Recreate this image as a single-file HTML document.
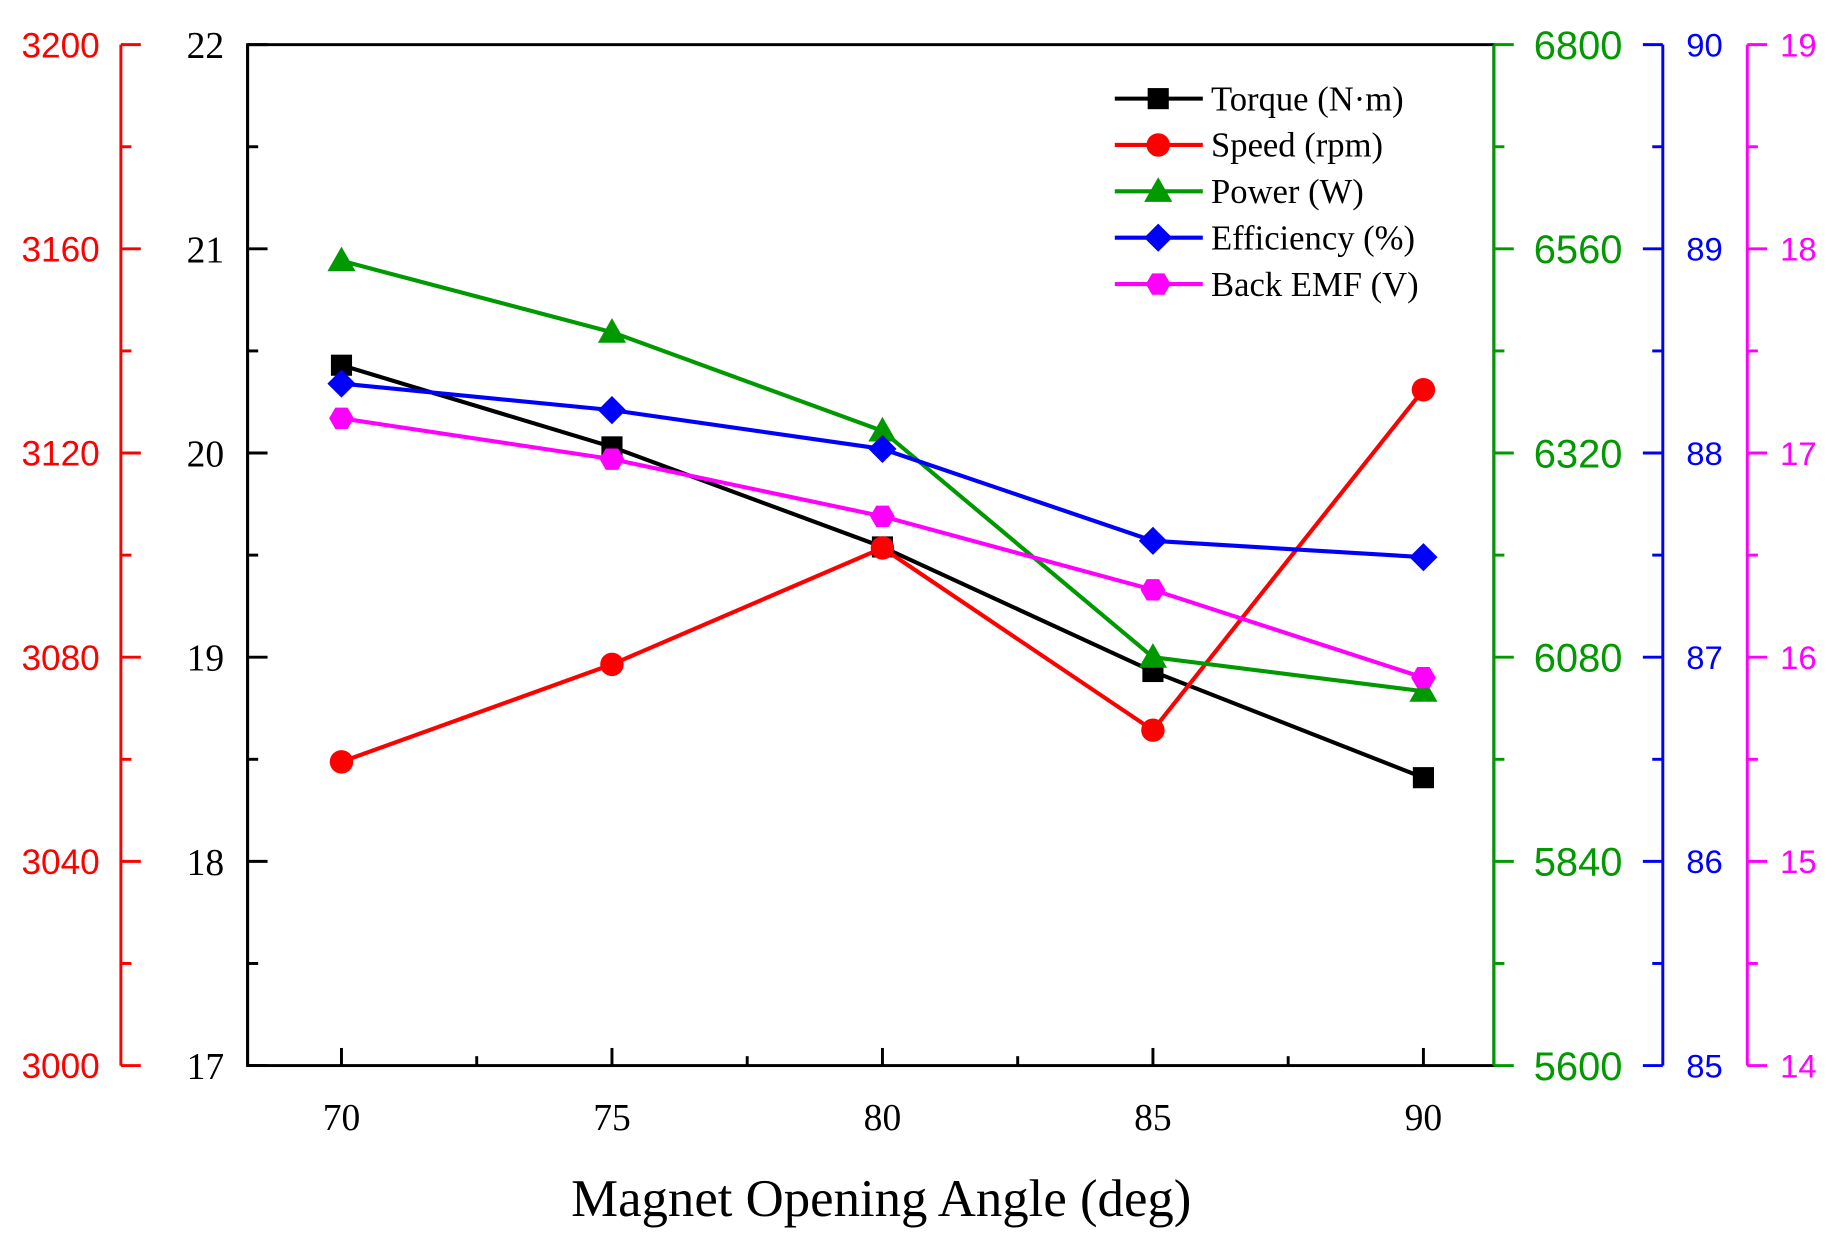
<!DOCTYPE html>
<html><head><meta charset="utf-8"><style>html,body{margin:0;padding:0;background:#fff}svg{display:block}</style></head>
<body>
<svg id="chart" width="1840" height="1244" viewBox="0 0 1568 1060" xmlns="http://www.w3.org/2000/svg"></svg>
<script>
const categories=[70,75,80,85,90];
const torque=[20.43,20.03,19.54,18.93,18.41];
const speed=[3059.5,3078.6,3101.4,3065.7,3132.4];
const power=[6546,6462,6346,6080,6040];
const efficiency=[88.34,88.21,88.02,87.57,87.49];
const backEmf=[17.17,16.97,16.69,16.33,15.90];
const torqueTicks=[17,18,19,20,21,22];
const speedTicks=[3000,3040,3080,3120,3160,3200];
const powerTicks=[5600,5840,6080,6320,6560,6800];
const effTicks=[85,86,87,88,89,90];
const emfTicks=[14,15,16,17,18,19];

const svg=document.getElementById('chart');
const NS='http://www.w3.org/2000/svg';
const L=211,R=1273,T=38,B=908;
function el(tag,attrs,parent){const e=document.createElementNS(NS,tag);for(const k in attrs)e.setAttribute(k,attrs[k]);(parent||svg).appendChild(e);return e;}
function xS(v){return 291+(v-70)*(1213-291)/20;}
function yS(min,max){return v=>B-(v-min)/(max-min)*(B-T);}
const yT=yS(17,22),ySp=yS(3000,3200),yP=yS(5600,6800),yE=yS(85,90),yM=yS(14,19);

const frame=el('rect',{x:L,y:T,width:R-L,height:B-T,fill:'none',stroke:'#000','stroke-width':2.5});



function axis(x,ticks,sc,color,dir,font,size,name,labelDx,anchor){
  const g=el('g',{});
  
  
  el('line',{x1:x,y1:T,x2:x,y2:B,stroke:color,'stroke-width':2.5},g);
  for(let i=0;i<ticks.length;i++){
    const y=sc(ticks[i]);
    el('line',{x1:x,y1:y,x2:x+dir*17,y2:y,stroke:color,'stroke-width':2.5},g);
    if(i<ticks.length-1){const ym=(y+sc(ticks[i+1]))/2;el('line',{x1:x,y1:ym,x2:x+dir*9,y2:ym,stroke:color,'stroke-width':2.5},g);}
    const t=el('text',{x:x+labelDx,y:y+size*0.36,fill:color,'font-family':font,'font-size':size,'text-anchor':anchor},g);
    t.textContent=ticks[i];
    
    
  }
}
axis(103,speedTicks,ySp,'#ff0000',1,'Liberation Sans, sans-serif',30,'speed-axis',-18,'end');
axis(L,torqueTicks,yT,'#000',1,'Liberation Serif, serif',32,'torque-axis',-20,'end');
axis(R,powerTicks,yP,'#009900',1,'Liberation Sans, sans-serif',34,'power-axis',34,'start');
axis(1417,effTicks,yE,'#0000ff',-1,'Liberation Sans, sans-serif',28,'efficiency-axis',20,'start');
axis(1489,emfTicks,yM,'#ff00ff',1,'Liberation Sans, sans-serif',28,'back-emf-axis',28,'start');

for(let v=70;v<=90;v+=2.5){
  const x=xS(v);const major=(v%5===0);
  el('line',{x1:x,y1:B,x2:x,y2:B-(major?15:8),stroke:'#000','stroke-width':2.5});
  if(major){const t=el('text',{x:x,y:B+55,'font-family':'Liberation Serif, serif','font-size':32,'text-anchor':'middle'});t.textContent=v;
  }
}
const xt=el('text',{x:751,y:1036,'font-family':'Liberation Serif, serif','font-size':45,'text-anchor':'middle'});
xt.textContent='Magnet Opening Angle (deg)';



function marker(g,shape,x,y,color){
  if(shape==='square')el('rect',{x:x-9,y:y-9,width:18,height:18,fill:color},g);
  else if(shape==='circle')el('circle',{cx:x,cy:y,r:10,fill:color},g);
  else if(shape==='triangle')el('polygon',{points:`${x},${y-12} ${x+12},${y+9} ${x-12},${y+9}`,fill:color},g);
  else if(shape==='diamond')el('polygon',{points:`${x},${y-12} ${x+12},${y} ${x},${y+12} ${x-12},${y}`,fill:color},g);
  else {let p=[];for(let k=0;k<6;k++){const a=Math.PI/3*k;p.push((x+10.5*Math.cos(a))+','+(y+10.5*Math.sin(a)));}el('polygon',{points:p.join(' '),fill:color},g);}
}
const series=[
  {name:'Torque (N·m)',data:torque,sc:yT,color:'#000',shape:'square',id:'torque-series'},
  {name:'Speed (rpm)',data:speed,sc:ySp,color:'#ff0000',shape:'circle',id:'speed-series'},
  {name:'Power (W)',data:power,sc:yP,color:'#009900',shape:'triangle',id:'power-series'},
  {name:'Efficiency (%)',data:efficiency,sc:yE,color:'#0000ff',shape:'diamond',id:'efficiency-series'},
  {name:'Back EMF (V)',data:backEmf,sc:yM,color:'#ff00ff',shape:'hexagon',id:'back-emf-series'}
];
series.forEach((s,si)=>{
  const g=el('g',{});
  
  
  const pts=s.data.map((v,i)=>xS(categories[i])+','+s.sc(v)).join(' ');
  el('polyline',{points:pts,fill:'none',stroke:s.color,'stroke-width':3.5},g);
  s.data.forEach((v,i)=>marker(g,s.shape,xS(categories[i]),s.sc(v),s.color));
  const lg=el('g',{});
  
  
  const ly=84+si*39.5;
  el('line',{x1:950,y1:ly,x2:1025,y2:ly,stroke:s.color,'stroke-width':3.5},lg);
  marker(lg,s.shape,987,ly,s.color);
  const t=el('text',{x:1032,y:ly+10,'font-family':'Liberation Serif, serif','font-size':29.5},lg);
  t.textContent=s.name;
});
</script>
</body></html>
